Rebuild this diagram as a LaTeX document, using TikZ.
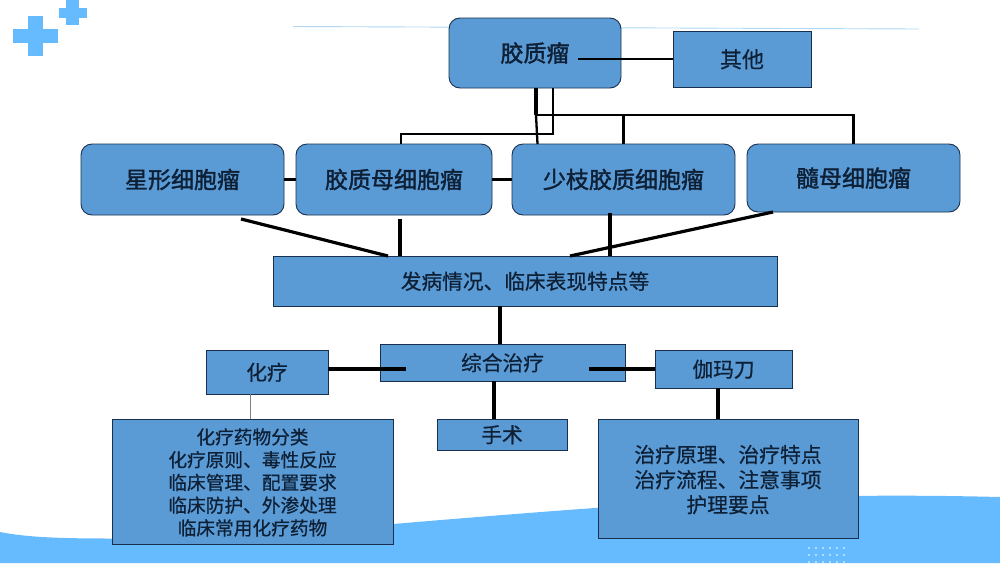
\documentclass[tikz,border=0pt]{standalone}
\usepackage{fontspec}
\newfontfamily\cjk[FakeBold=.6]{Noto Sans CJK SC}
\newfontfamily\cjkBold[FakeBold=1.6]{Noto Sans CJK SC}
\usetikzlibrary{positioning}
\definecolor{waveColor}{RGB}{102,187,255}
\definecolor{boxColor}{RGB}{91,155,213}
\definecolor{boxLine}{RGB}{24,48,78}
\definecolor{boxText}{RGB}{14,32,54}
\definecolor{ruleColor}{RGB}{176,216,245}
\tikzstyle{slide} = [x = 1pt, y = -1pt]
\tikzstyle{boxStyle} = [draw=boxLine, fill=boxColor, text=boxText, line width=.9pt, inner sep=0pt, outer sep=0pt, align=center]
\tikzstyle{tumorStyle} = [boxStyle, rounded corners = 11pt, font=\cjkBold\fontsize{23}{26}\selectfont]
\tikzstyle{plainStyle} = [boxStyle, font=\cjk\fontsize{20.7}{24}\selectfont]
\tikzstyle{linkLine} = [color=black, line width=2.3pt]
\tikzstyle{heavyLine} = [color=black, line width=3.2pt]
\tikzstyle{crossStyle} = [fill=waveColor]
\newcommand{\nudgeText}[2]{\raisebox{0pt}[\dimexpr\height+#1pt\relax][\depth]{\begin{tabular}{@{}c@{}}#2\end{tabular}}}
\newcommand{\tumorBox}[6]{\node [tumorStyle, minimum width=#4-#2, minimum height=#5-#3] (#1) at ({(#2+#4)/2},{(#3+#5)/2}) {#6};}
\newcommand{\plainBox}[6]{\node [plainStyle, minimum width=#4-#2, minimum height=#5-#3] (#1) at ({(#2+#4)/2},{(#3+#5)/2}) {\nudgeText{6}{#6}};}
\begin{document}
\begin{tikzpicture}[slide]
  \useasboundingbox (0,0) rectangle (1000,563);
  \fill [white] (0,0) rectangle (1000,563);
  \fill [waveColor] (0,532) .. controls (30,538) and (70,538.5) .. (115,538.5)
    .. controls (220,538.5) and (310,531) .. (393,524)
    .. controls (500,515) and (600,507) .. (700,501)
    .. controls (780,496.5) and (880,494) .. (1000,497)
    -- (1000,563) -- (0,563) -- cycle;
  \foreach \column in {0,...,5} {
    \foreach \row in {0,...,2} {
      \fill [white] ({809+7*\column},{548+7*\row}) circle (.9);
    }
  }
  \fill [crossStyle] (12.5,29) rectangle (58,43);
  \fill [crossStyle] (28,16) rectangle (43,56);
  \fill [crossStyle] (59,8) rectangle (87,17.5);
  \fill [crossStyle] (66,0) rectangle (79,25);
  \draw [ruleColor, line width=.9pt] (293,26.5) -- (919,29);

  \tumorBox{glioma}{449}{18}{621}{88}{胶质瘤}
  \plainBox{otherType}{673}{31}{811}{87}{\fontsize{22}{24}\selectfont 其他}
  \tumorBox{astro}{81}{144}{284}{215}{星形细胞瘤}
  \tumorBox{glioblast}{296}{144}{492}{215}{胶质母细胞瘤}
  \tumorBox{oligo}{512}{144}{735}{215}{少枝胶质细胞瘤}
  \tumorBox{medullo}{747}{144}{960}{212}{髓母细胞瘤}
  \plainBox{onset}{273}{256}{777}{306}{发病情况、临床表现特点等}
  \plainBox{therapy}{380}{344}{625}{381}{综合治疗}
  \plainBox{chemo}{206}{350}{328}{394}{化疗}
  \plainBox{gamma}{655}{350}{792}{388}{伽玛刀}
  \plainBox{surgery}{437}{419}{567}{450}{手术}
  \node [boxStyle, font=\cjk\fontsize{18.7}{22.75}\selectfont, minimum width=281, minimum height=125] (chemoList) at (252.5,481.5) {\nudgeText{7}{化疗药物分类\\化疗原则、毒性反应\\临床管理、配置要求\\临床防护、外渗处理\\临床常用化疗药物}};
  \node [boxStyle, font=\cjk\fontsize{20.8}{25}\selectfont, minimum width=260, minimum height=119] (gammaList) at (728,478.5) {\nudgeText{8}{治疗原理、治疗特点\\治疗流程、注意事项\\护理要点}};

  \coordinate (branchTop) at (536,115);
  \draw [linkLine] ([xshift=43pt,yshift=-6pt]glioma.center) -- (otherType.west |- 0,59);
  \draw [heavyLine] ([xshift=1pt]glioma.south) -- (branchTop);
  \draw [linkLine] (branchTop) -| (medullo.north);
  \draw [linkLine] (oligo.north) -- (oligo.north |- branchTop);
  \draw [linkLine] (branchTop) -- ([xshift=-86pt]oligo.north);
  \draw [linkLine] ([xshift=18pt]glioma.south) |- (401,134) -- ([xshift=7pt]glioblast.north);
  \draw [linkLine] (astro.east) -- (glioblast.west);
  \draw [linkLine] (glioblast.east) -- (oligo.west);
  \draw [heavyLine] ([xshift=58.5pt,yshift=-4pt]astro.south) -- ([xshift=-137pt]onset.north);
  \draw [heavyLine] ([xshift=6pt,yshift=-4pt]glioblast.south) -- ([xshift=-125pt]onset.north);
  \draw [heavyLine] ([xshift=-13.5pt,yshift=2pt]oligo.south) -- ([xshift=85pt]onset.north);
  \draw [heavyLine] ([xshift=-80.5pt]medullo.south) -- ([xshift=45pt]onset.north);
  \draw [heavyLine] ([xshift=-25pt]onset.south) -- ([xshift=-2.5pt]therapy.north);
  \draw [heavyLine] ([yshift=3pt]chemo.east) -- ([xshift=-219pt,yshift=-6.5pt]therapy.east);
  \draw [heavyLine] ([xshift=-36pt,yshift=-6.5pt]therapy.east) -- (gamma.west);
  \draw [heavyLine] ([xshift=-8.5pt]therapy.south) -- ([xshift=-8pt]surgery.north);
  \draw [color=gray, line width=.9pt] ([xshift=-17pt]chemo.south) -- ([xshift=-2.5pt]chemoList.north);
  \draw [heavyLine] ([xshift=-5.5pt]gamma.south) -- ([xshift=-10pt]gammaList.north);
\end{tikzpicture}
\end{document}
